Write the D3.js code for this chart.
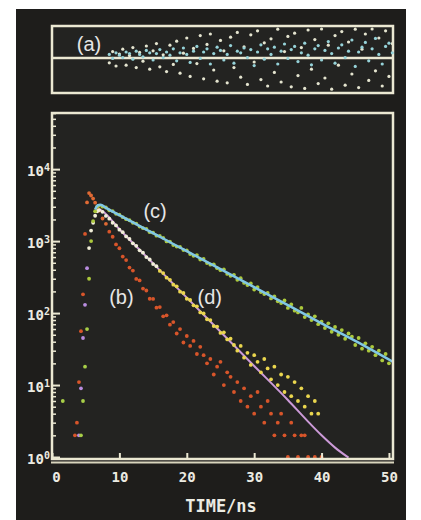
<!DOCTYPE html>
<html>
<head>
<meta charset="utf-8">
<script src="https://cdn.jsdelivr.net/npm/d3@7"></script>
<style>
body { margin: 0; background: #fff; }
svg { display: block; }
.tick-label { font-family: "DejaVu Sans Mono", monospace; font-weight: bold; fill: #ecebe2; }
.curve-label { font-family: "Liberation Sans", Arial, sans-serif; font-size: 20px; fill: #e6e6e6; }
</style>
</head>
<body>
<div id="chart"></div>
<script>
// channel times (ns), finer steps on the rising edge
const timeNs = [
    1.6, 3.1, 3.4, 3.7, 4.0, 4.3, 4.6, 4.9, 5.2, 5.5, 5.8, 6.1, 6.4, 6.7, 7.0,
    7.5, 8, 8.5, 9, 9.5, 10, 10.5, 11, 11.5, 12,
    12.5, 13, 13.5, 14, 14.5, 15, 15.5, 16, 16.5, 17,
    17.5, 18, 18.5, 19, 19.5, 20, 20.5, 21, 21.5, 22,
    22.5, 23, 23.5, 24, 24.5, 25, 25.5, 26, 26.5, 27,
    27.5, 28, 28.5, 29, 29.5, 30, 30.5, 31, 31.5, 32,
    32.5, 33, 33.5, 34, 34.5, 35, 35.5, 36, 36.5, 37,
    37.5, 38, 38.5, 39, 39.5, 40, 40.5, 41, 41.5, 42,
    42.5, 43, 43.5, 44, 44.5, 45, 45.5, 46, 46.5, 47,
    47.5, 48, 48.5, 49, 49.5, 50
];

// (b) red decay
const countsB = [
    0, 0, 2, 3, 11, 56, 182, 1260, 3450, 4650, 4300, 3900, 3420, 2900, 2650,
    2060, 1740, 1350, 1150, 900, 795, 610, 545, 428, 390,
    298, 284, 219, 206, 158, 157, 119, 121, 90, 93,
    69, 75, 52, 60, 39, 48, 35, 41, 27, 34,
    26, 20, 23, 14, 18, 21, 10, 15, 13, 8,
    11, 6, 9, 5, 7, 4, 8, 5, 3, 6,
    4, 2, 3, 4, 2, 1, 3, 2, 1, 2,
    2, 1, 0, 1, 0, 1, 0, 0, 0, 0,
    0, 0, 0, 0, 0, 0, 0, 0, 0, 0,
    0, 0, 0, 0, 0, 0
];

// (c) green decay
const countsC = [
    6, 0, 0, 0, 0, 2, 6, 18, 60, 300, 1000, 1900, 2600, 3000, 3120,
    3010, 2930, 2680, 2610, 2390, 2330, 2150, 2020, 1950, 1800,
    1750, 1590, 1510, 1480, 1330, 1310, 1190, 1180, 1110, 990,
    985, 880, 840, 830, 750, 745, 660, 625, 640, 555,
    565, 495, 470, 475, 420, 395, 405, 350, 330, 340,
    290, 305, 262, 245, 258, 212, 230, 196, 184, 190,
    160, 170, 146, 138, 150, 118, 132, 108, 102, 118,
    88, 96, 80, 90, 70, 76, 62, 72, 55, 64,
    50, 58, 44, 52, 47, 36, 45, 32, 38, 30,
    34, 26, 30, 22, 27, 20
];

// (d) white / yellow decay
const countsD = [
    0, 0, 0, 0, 2, 9, 45, 130, 420, 800, 1400, 1800, 2250, 2600, 2700,
    2550, 2240, 2050, 1800, 1650, 1440, 1330, 1160, 1070, 930,
    860, 745, 690, 600, 555, 480, 448, 385, 360, 310,
    290, 248, 235, 198, 190, 158, 152, 128, 124, 102,
    99, 82, 80, 66, 65, 53, 54, 43, 44, 36,
    30, 35, 24, 28, 19, 26, 21, 15, 23, 17,
    12, 18, 10, 14, 8, 13, 7, 11, 6, 9,
    5, 7, 4, 6, 4, 0, 0, 0, 0, 0,
    0, 0, 0, 0, 0, 0, 0, 0, 0, 0,
    0, 0, 0, 0, 0, 0
];

// fitted curves [time, count]
const fitC = [[6.4, 2750], [6.8, 3150], [7.2, 3200], [8, 2900], [10, 2290], [15, 1290], [20, 724],
    [25, 407], [30, 229], [35, 129], [40, 72], [45, 41], [50.6, 21]];
const fitD = [[6.6, 2550], [7.0, 2750], [7.5, 2600], [10, 1460], [15, 490], [20, 164], [25, 55],
    [30, 18.4], [35, 6.2], [38, 3.1], [40, 2.0], [42, 1.35], [44, 0.98]];

// (a) weighted residuals
const residTime = [
    8.5, 9, 9.5, 10, 10.5, 11, 11.5, 12, 12.5, 13,
    13.5, 14, 14.5, 15, 15.5, 16, 16.5, 17, 17.5, 18,
    18.5, 19, 19.5, 20, 20.5, 21, 21.5, 22, 22.5, 23,
    23.5, 24, 24.5, 25, 25.5, 26, 26.5, 27, 27.5, 28,
    28.5, 29, 29.5, 30, 30.5, 31, 31.5, 32, 32.5, 33,
    33.5, 34, 34.5, 35, 35.5, 36, 36.5, 37, 37.5, 38,
    38.5, 39, 39.5, 40, 40.5, 41, 41.5, 42, 42.5, 43,
    43.5, 44, 44.5, 45, 45.5, 46, 46.5, 47, 47.5, 48,
    48.5, 49, 49.5, 50, 50.5
];
const residCyan = [
    0.2, -0.3, 0.4, 0.1, -0.2, 0.5, 0.3, -0.4, 0.6, 0.2,
    -0.1, 0.7, 0.4, -0.5, 0.3, 0.8, -0.2, 0.5, 0.1, 0.9,
    -0.6, 0.4, 1.0, 0.2, -0.8, 0.6, 1.2, -0.3, 0.5, 0.9,
    -1.0, 0.3, 1.1, 0.7, -0.5, 0.2, 1.3, -0.9, 0.6, 0.4,
    1.0, -0.2, 0.8, -1.2, 0.5, 1.4, -0.4, 0.9, 0.2, 1.1,
    -1.0, 0.6, 1.5, -0.3, 0.8, 1.2, -0.7, 0.4, 1.6, 0.1,
    -1.1, 0.9, 1.3, -0.5, 0.7, 1.8, 0.3, -0.9, 1.0, 1.4,
    -0.2, 0.6, 2.0, -1.3, 0.5, 1.1, 1.7, -0.6, 0.9, 2.2,
    0.2, -1.0, 1.2, 1.6, 0.4
];
const residWhite = [
    -0.6, 0.8, -1.0, 0.5, 1.1, -0.9, 0.3, 1.3, -1.2, 0.7,
    -0.4, 1.5, -1.4, 0.9, 1.8, -1.1, 0.4, -1.7, 1.6, -0.8,
    2.1, -1.9, 0.6, 2.5, -2.3, 1.2, -0.7, 2.8, -2.6, 1.7,
    3.0, -1.5, -2.9, 2.2, 0.9, -3.1, 2.6, -1.2, 3.2, -2.4,
    1.4, -3.3, 2.9, -0.5, 3.4, -2.7, 1.9, -3.5, 2.4, -1.8,
    3.6, -3.0, 0.8, 2.7, -3.6, 3.1, -2.2, 1.3, -3.8, 3.5,
    -1.4, 2.3, -3.2, 3.7, -2.5, 1.6, -3.9, 2.8, -0.9, 3.3,
    -3.4, 2.0, -2.0, 3.6, -3.7, 1.1, 3.0, -2.8, 3.8, -1.6,
    2.5, -3.5, 3.4, -2.3, 1.8
];

const xTicks = [0, 10, 20, 30, 40, 50];
const yDecades = [1, 10, 100, 1000, 10000];
const curveLabels = [
    { text: "(a)", t: 5.5, panel: "resid" },
    { text: "(b)", t: 10.3, c: 135 },
    { text: "(c)", t: 15.3, c: 2090 },
    { text: "(d)", t: 23.4, c: 135 }
];

(function(){
const W = 421, H = 520;
const frameCol = "#ebe8d2";

const svg = d3.select("#chart")
    .append("svg")
    .attr("width", W)
    .attr("height", H);

// dark photo background
svg.append("rect")
    .attr("x", 16).attr("y", 9)
    .attr("width", 390).attr("height", 511)
    .attr("fill", "#1e1d1b");

// Scales
const x = d3.scaleLinear().domain([0, 50.6]).range([52, 393]);
const y = d3.scaleLog().domain([1, Math.pow(10, 4.78)]).range([457, 113]);
const yr = d3.scaleLinear().domain([-4, 4]).range([90, 26]);

// ---------- residual panel ----------
svg.append("rect")
    .attr("x", 52).attr("y", 26).attr("width", 341).attr("height", 67)
    .attr("fill", "#232321").attr("stroke", frameCol).attr("stroke-width", 2.5);

const residWhitePts = residTime.map((t, i) => ({ t, r: residWhite[i] }));
const residCyanPts = residTime.map((t, i) => ({ t, r: residCyan[i] }));

svg.selectAll(".res-w")
    .data(residWhitePts)
    .enter()
    .append("circle")
    .attr("class", "res-w")
    .attr("cx", d => x(d.t))
    .attr("cy", d => Math.max(29, Math.min(90, yr(d.r))))
    .attr("r", 1.6)
    .attr("fill", "#e4e4cf");

svg.append("line")
    .attr("x1", 52).attr("x2", 393)
    .attr("y1", yr(0)).attr("y2", yr(0))
    .attr("stroke", frameCol).attr("stroke-width", 2.5);

svg.selectAll(".res-c")
    .data(residCyanPts)
    .enter()
    .append("circle")
    .attr("class", "res-c")
    .attr("cx", d => x(d.t))
    .attr("cy", d => yr(d.r) - 2)
    .attr("r", 1.6)
    .attr("fill", "#95d2d8");

// ---------- decay panel ----------
svg.append("rect")
    .attr("x", 52).attr("y", 113).attr("width", 341).attr("height", 346)
    .attr("fill", "#232321");

svg.append("clipPath").attr("id", "plot-clip")
    .append("rect").attr("x", 52).attr("y", 113).attr("width", 341).attr("height", 345);

const plot = svg.append("g").attr("clip-path", "url(#plot-clip)");

const line = d3.line()
    .x(d => x(d[0]))
    .y(d => y(d[1]))
    .curve(d3.curveMonotoneX);

function dots(counts, cls, colorFn) {
    const pts = timeNs.map((t, i) => ({ t, c: counts[i] })).filter(d => d.c >= 1);
    plot.selectAll("." + cls)
        .data(pts)
        .enter()
        .append("circle")
        .attr("class", cls)
        .attr("cx", d => x(d.t))
        .attr("cy", d => y(d.c))
        .attr("r", 1.9)
        .attr("fill", colorFn);
}

dots(countsB, "dot-b", d => d.c > 1500 ? "#e06a34" : "#d8552a");

// purple fit sits under its own dots
plot.append("path")
    .datum(fitD)
    .attr("d", line)
    .attr("fill", "none")
    .attr("stroke", "#cc9ad8")
    .attr("stroke-width", 2);

dots(countsD, "dot-d", d => d.t < 5.3 ? "#b98de0" : (d.c >= 400 ? "#f1eed8" : "#ead64e"));
dots(countsC, "dot-c", d => d.t < 5.3 ? "#a8cf48" : "#acc93c");

plot.append("path")
    .datum(fitC)
    .attr("d", line)
    .attr("fill", "none")
    .attr("stroke", "#80c7e5")
    .attr("stroke-width", 2.5);

// frame
svg.append("rect")
    .attr("x", 52).attr("y", 113).attr("width", 341).attr("height", 346)
    .attr("fill", "none").attr("stroke", frameCol).attr("stroke-width", 2.5);
svg.append("line")
    .attr("x1", 51).attr("x2", 394).attr("y1", 462.5).attr("y2", 462.5)
    .attr("stroke", "#d9d5bd").attr("stroke-width", 2);

// Y axis: minor ticks
const minor = svg.append("g")
    .attr("transform", "translate(52,0)")
    .call(d3.axisLeft(y)
        .tickValues(y.ticks().filter(v => !yDecades.includes(v)))
        .tickSize(-4)
        .tickFormat(""));
minor.select(".domain").remove();
minor.selectAll("line").attr("stroke", frameCol).attr("stroke-width", 1.5);

// Y axis: decades with 10^n labels
const major = svg.append("g")
    .attr("transform", "translate(52,0)")
    .call(d3.axisLeft(y)
        .tickValues(yDecades)
        .tickSize(-8)
        .tickFormat(""));
major.select(".domain").remove();
major.selectAll("line").attr("stroke", frameCol).attr("stroke-width", 2);
major.selectAll(".tick").append("text")
    .attr("class", "tick-label")
    .attr("x", -2)
    .attr("y", 6)
    .attr("text-anchor", "end")
    .each(function(d) {
        const t = d3.select(this);
        t.append("tspan").style("font-size", "14px").text("10");
        t.append("tspan").attr("dy", -5).style("font-size", "10px").text(Math.round(Math.log10(d)));
    });

// X axis
const xAxis = svg.append("g")
    .attr("transform", "translate(0,459)")
    .call(d3.axisBottom(x)
        .tickValues(xTicks)
        .tickSize(-6)
        .tickPadding(13));
xAxis.select(".domain").remove();
xAxis.selectAll("line").attr("stroke", frameCol).attr("stroke-width", 2);
xAxis.selectAll("text")
    .attr("class", "tick-label")
    .attr("dx", d => d === 0 ? 4 : 0)
    .style("font-size", "14px");

svg.append("text")
    .attr("class", "tick-label")
    .attr("x", 221)
    .attr("y", 512)
    .attr("text-anchor", "middle")
    .style("font-size", "17px")
    .text("TIME/ns");

// curve labels
svg.selectAll(".curve-label")
    .data(curveLabels)
    .enter()
    .append("text")
    .attr("class", "curve-label")
    .attr("x", d => x(d.t))
    .attr("y", d => d.panel === "resid" ? 51 : y(d.c))
    .attr("text-anchor", "middle")
    .text(d => d.text);
})();
</script>
</body>
</html>
